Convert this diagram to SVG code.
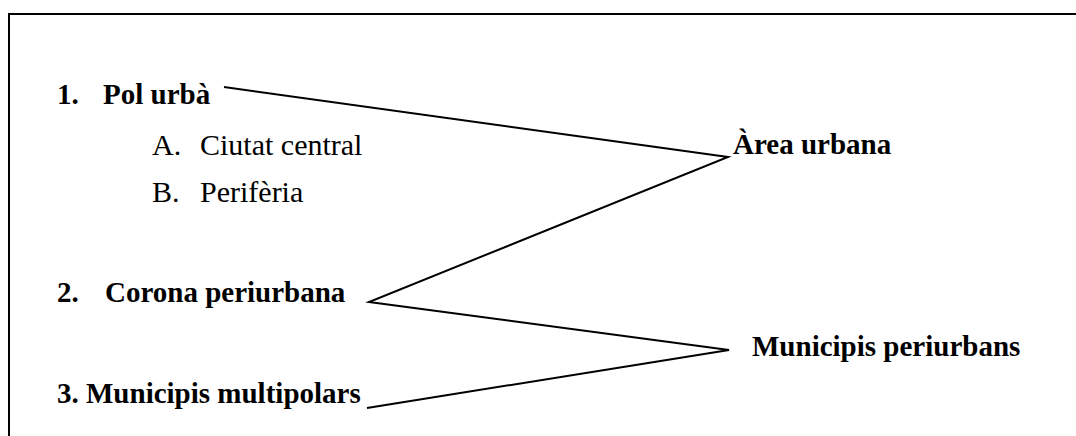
<svg xmlns="http://www.w3.org/2000/svg" width="1076" height="436" viewBox="0 0 1076 436">
<style>
.b{font-family:"Liberation Serif","Times New Roman",serif;font-size:29px;font-weight:bold;fill:#000}
.r{font-family:"Liberation Serif","Times New Roman",serif;font-size:30px;fill:#000}
.ln{stroke:#000;stroke-width:2;fill:none}
</style>
<rect width="1076" height="436" fill="#fff"/>
<path class="ln" d="M9,436 V14 H1076"/>
<g id="n1"><text class="b" x="57" y="104">1.</text><text class="b" x="103" y="104">Pol urbà</text></g>
<g id="nA"><text class="r" x="152" y="155">A.</text><text class="r" x="200" y="155">Ciutat central</text></g>
<g id="nB"><text class="r" x="152" y="202">B.</text><text class="r" x="200" y="202">Perifèria</text></g>
<g id="n2"><text class="b" x="57" y="302">2.</text><text class="b" x="105" y="302">Corona periurbana</text></g>
<g id="n3"><text class="b" x="57" y="403">3. Municipis multipolars</text></g>
<g id="area"><text class="b" x="733" y="154">Àrea urbana</text></g>
<g id="muni"><text class="b" x="752" y="356">Municipis periurbans</text></g>
<g id="connectors">
<polyline class="ln" points="224,87 728,157 369,302 729,350 367,408"/>
</g>
</svg>
